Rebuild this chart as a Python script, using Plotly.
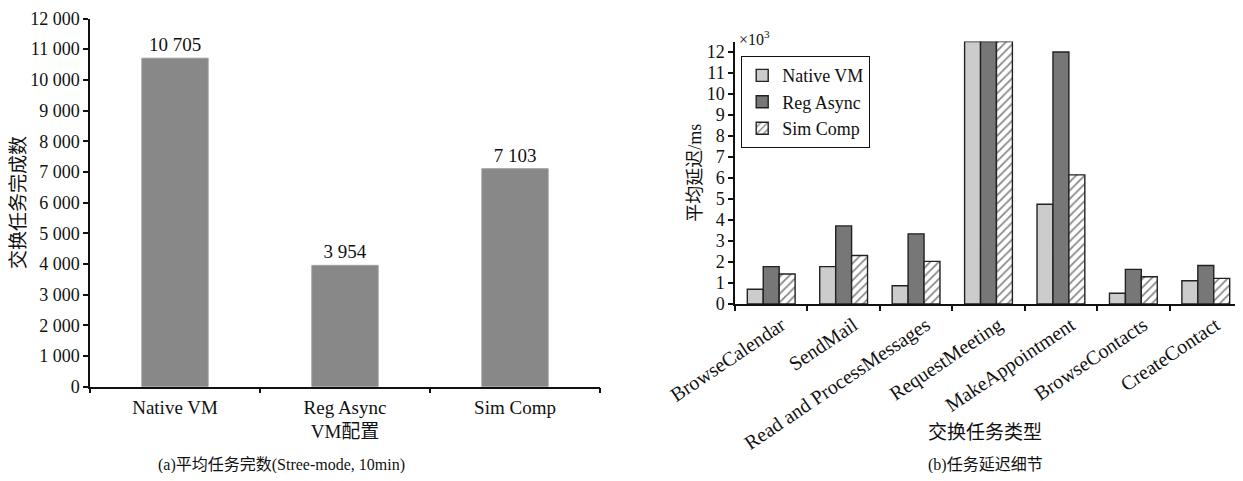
import plotly.graph_objects as go

# ---- data (a) ----
configs = ["Native VM", "Reg Async", "Sim Comp"]
completed = [10705, 3954, 7103]
completed_text = ["10 705", "3 954", "7 103"]

# ---- data (b) ----
tasks = ["BrowseCalendar", "SendMail", "Read and ProcessMessages", "RequestMeeting",
         "MakeAppointment", "BrowseContacts", "CreateContact"]
native_vm = [0.70, 1.78, 0.87, 12.5, 4.75, 0.51, 1.11]
reg_async = [1.78, 3.72, 3.34, 12.5, 12.0, 1.65, 1.83]
sim_comp = [1.43, 2.31, 2.03, 12.5, 6.15, 1.30, 1.22]
y_ticks_a = list(range(0, 12001, 1000))
y_ticks_b = list(range(0, 13))

# page has an 8px body margin; work in screen pixels and convert
OFF = 8
W, H = 1234, 465
SERIF = "Liberation Serif, Noto Sans CJK SC, serif"


def px_x(p):
    return min(1.0, (p - OFF) / W)


def px_y(p):
    return max(0.0, min(1.0, (H + OFF - p) / H))


fig = go.Figure()

fig.add_trace(go.Bar(
    x=configs, y=completed, text=completed_text, textposition="outside",
    textfont=dict(family=SERIF, size=19, color="#111"),
    width=0.39, marker=dict(color="#888888", line=dict(color="#9a9a9a", width=1)),
    xaxis="x", yaxis="y", showlegend=False, cliponaxis=False,
))

line_col = "#222222"
fig.add_trace(go.Bar(
    name="Native VM", x=tasks, y=native_vm, xaxis="x2", yaxis="y2",
    marker=dict(color="#cccccc", line=dict(color=line_col, width=1.4)),
))
fig.add_trace(go.Bar(
    name="Reg Async", x=tasks, y=reg_async, xaxis="x2", yaxis="y2",
    marker=dict(color="#777777", line=dict(color=line_col, width=1.4)),
))
fig.add_trace(go.Bar(
    name="Sim Comp", x=tasks, y=sim_comp, xaxis="x2", yaxis="y2",
    marker=dict(color="white", line=dict(color=line_col, width=1.4),
                pattern=dict(shape="/", fgcolor="#111", bgcolor="white", size=6, solidity=0.3)),
))


def axis_common(fs):
    return dict(showline=True, linecolor="#111", linewidth=1.5, ticks="outside",
                ticklen=5, tickwidth=1.5, tickcolor="#111", showgrid=False,
                zeroline=False, automargin=False, ticklabeloverflow="allow",
                tickfont=dict(family=SERIF, size=fs, color="#111"))


fig.update_layout(
    width=W, height=H, margin=dict(l=0, r=0, t=0, b=0),
    paper_bgcolor="white", plot_bgcolor="white",
    separators=". ",
    barmode="group", bargap=0.34, bargroupgap=0,
    font=dict(family=SERIF, color="#111"),
    xaxis=dict(domain=[px_x(90), px_x(600)], anchor="y", tickson="boundaries",
               ticklabelstandoff=3, **axis_common(19),
               title=dict(text="VM配置", font=dict(family=SERIF, size=19), standoff=7)),
    yaxis=dict(domain=[px_y(386.7), px_y(18.5)], anchor="x", range=[0, 12000],
               tickvals=y_ticks_a, tickformat=",", **axis_common(18),
               title=dict(text="交换任务完成数", font=dict(family=SERIF, size=19), standoff=6)),
    xaxis2=dict(domain=[px_x(735), px_x(1242)], anchor="y2", tickson="boundaries",
                tickangle=-34, ticklabelshift=10, **axis_common(20)),
    yaxis2=dict(domain=[px_y(304), px_y(41.5)], anchor="x2", range=[0, 12.5],
                tickvals=y_ticks_b, **axis_common(18),
                title=dict(text="平均延迟/ms", font=dict(family=SERIF, size=18), standoff=0)),
    legend=dict(x=px_x(741), y=px_y(56), xanchor="left", yanchor="top",
                bordercolor="#111", borderwidth=1.2, bgcolor="white",
                font=dict(family=SERIF, size=18, color="#111"), tracegroupgap=0),
    annotations=[
        dict(text="×10<sup>3</sup>", x=px_x(737), y=px_y(38), xref="paper", yref="paper",
             xanchor="left", yanchor="middle", showarrow=False,
             font=dict(family=SERIF, size=16, color="#111")),
        dict(text="交换任务类型", x=px_x(985), y=px_y(432), xref="paper", yref="paper",
             xanchor="center", yanchor="middle", showarrow=False,
             font=dict(family=SERIF, size=19, color="#111")),
        dict(text="(a)平均任务完数(Stree-mode, 10min)", x=px_x(281), y=px_y(465),
             xref="paper", yref="paper", xanchor="center", yanchor="middle",
             showarrow=False, font=dict(family=SERIF, size=16, color="#111")),
        dict(text="(b)任务延迟细节", x=px_x(985), y=px_y(465),
             xref="paper", yref="paper", xanchor="center", yanchor="middle",
             showarrow=False, font=dict(family=SERIF, size=16, color="#111")),
    ],
)

fig.write_html("out.html")
